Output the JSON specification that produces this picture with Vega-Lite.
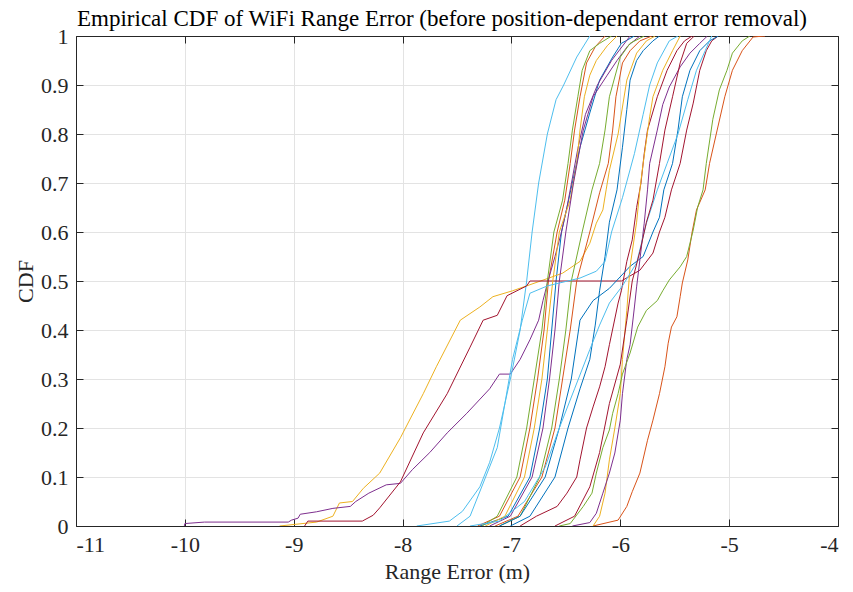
{
  "$schema": "https://vega.github.io/schema/vega-lite/v6.json",
  "width": 762,
  "height": 490,
  "autosize": "none",
  "padding": {"left": 76, "top": 36, "right": 15, "bottom": 66},
  "background": "white",
  "config": {"view": {"stroke": null}, "font": "Liberation Serif"},
  "title": {"text": "Empirical CDF of WiFi Range Error (before position-dependant error removal)", "font": "Liberation Serif", "fontSize": 23, "fontWeight": "normal", "color": "#000000", "offset": 8, "dy": 14, "dx": -15},
  "data": {"values": [
    {"s":"s01","x":-7.29,"y":0},{"s":"s01","x":-7.03,"y":0.02},{"s":"s01","x":-6.83,"y":0.1},{"s":"s01","x":-6.74,"y":0.2},{"s":"s01","x":-6.67,"y":0.3},{"s":"s01","x":-6.63,"y":0.4},{"s":"s01","x":-6.59,"y":0.5},{"s":"s01","x":-6.54,"y":0.6},{"s":"s01","x":-6.46,"y":0.68},{"s":"s01","x":-6.37,"y":0.773},{"s":"s01","x":-6.28,"y":0.843},{"s":"s01","x":-6.19,"y":0.91},{"s":"s01","x":-6.07,"y":0.957},{"s":"s01","x":-5.99,"y":0.985},{"s":"s01","x":-5.87,"y":1},
    {"s":"s02","x":-7.31,"y":0},{"s":"s02","x":-7.11,"y":0.02},{"s":"s02","x":-6.92,"y":0.1},{"s":"s02","x":-6.83,"y":0.2},{"s":"s02","x":-6.76,"y":0.3},{"s":"s02","x":-6.7,"y":0.4},{"s":"s02","x":-6.66,"y":0.5},{"s":"s02","x":-6.58,"y":0.6},{"s":"s02","x":-6.51,"y":0.665},{"s":"s02","x":-6.46,"y":0.74},{"s":"s02","x":-6.42,"y":0.808},{"s":"s02","x":-6.37,"y":0.876},{"s":"s02","x":-6.31,"y":0.945},{"s":"s02","x":-6.23,"y":0.978},{"s":"s02","x":-6.14,"y":1},
    {"s":"s03","x":-9.13,"y":0},{"s":"s03","x":-8.79,"y":0.008},{"s":"s03","x":-8.64,"y":0.02},{"s":"s03","x":-8.58,"y":0.047},{"s":"s03","x":-8.46,"y":0.05},{"s":"s03","x":-8.36,"y":0.077},{"s":"s03","x":-8.21,"y":0.108},{"s":"s03","x":-8.02,"y":0.18},{"s":"s03","x":-7.81,"y":0.27},{"s":"s03","x":-7.69,"y":0.325},{"s":"s03","x":-7.47,"y":0.42},{"s":"s03","x":-7.29,"y":0.447},{"s":"s03","x":-7.17,"y":0.468},{"s":"s03","x":-6.99,"y":0.48},{"s":"s03","x":-6.86,"y":0.49},{"s":"s03","x":-6.53,"y":0.516},{"s":"s03","x":-6.37,"y":0.54},{"s":"s03","x":-6.28,"y":0.577},{"s":"s03","x":-6.22,"y":0.618},{"s":"s03","x":-6.16,"y":0.645},{"s":"s03","x":-6.13,"y":0.686},{"s":"s03","x":-6.1,"y":0.726},{"s":"s03","x":-6.02,"y":0.8},{"s":"s03","x":-5.94,"y":0.91},{"s":"s03","x":-5.85,"y":0.965},{"s":"s03","x":-5.76,"y":0.99},{"s":"s03","x":-5.68,"y":1},
    {"s":"s04","x":-10.005,"y":0},{"s":"s04","x":-10.0,"y":0.005},{"s":"s04","x":-9.82,"y":0.008},{"s":"s04","x":-9.05,"y":0.008},{"s":"s04","x":-9.02,"y":0.012},{"s":"s04","x":-8.96,"y":0.016},{"s":"s04","x":-8.94,"y":0.024},{"s":"s04","x":-8.79,"y":0.029},{"s":"s04","x":-8.64,"y":0.036},{"s":"s04","x":-8.48,"y":0.04},{"s":"s04","x":-8.43,"y":0.05},{"s":"s04","x":-8.31,"y":0.067},{"s":"s04","x":-8.15,"y":0.084},{"s":"s04","x":-8.02,"y":0.087},{"s":"s04","x":-7.91,"y":0.115},{"s":"s04","x":-7.75,"y":0.15},{"s":"s04","x":-7.59,"y":0.19},{"s":"s04","x":-7.41,"y":0.23},{"s":"s04","x":-7.2,"y":0.28},{"s":"s04","x":-7.11,"y":0.31},{"s":"s04","x":-7.01,"y":0.31},{"s":"s04","x":-6.92,"y":0.34},{"s":"s04","x":-6.83,"y":0.38},{"s":"s04","x":-6.75,"y":0.42},{"s":"s04","x":-6.71,"y":0.46},{"s":"s04","x":-6.67,"y":0.495},{"s":"s04","x":-6.6,"y":0.55},{"s":"s04","x":-6.54,"y":0.6},{"s":"s04","x":-6.49,"y":0.65},{"s":"s04","x":-6.46,"y":0.686},{"s":"s04","x":-6.39,"y":0.77},{"s":"s04","x":-6.32,"y":0.84},{"s":"s04","x":-6.21,"y":0.9},{"s":"s04","x":-6.08,"y":0.95},{"s":"s04","x":-5.91,"y":1},
    {"s":"s05","x":-7.27,"y":0},{"s":"s05","x":-7.13,"y":0.02},{"s":"s05","x":-6.95,"y":0.1},{"s":"s05","x":-6.86,"y":0.2},{"s":"s05","x":-6.79,"y":0.3},{"s":"s05","x":-6.72,"y":0.4},{"s":"s05","x":-6.67,"y":0.5},{"s":"s05","x":-6.61,"y":0.6},{"s":"s05","x":-6.53,"y":0.665},{"s":"s05","x":-6.48,"y":0.74},{"s":"s05","x":-6.44,"y":0.808},{"s":"s05","x":-6.39,"y":0.876},{"s":"s05","x":-6.35,"y":0.93},{"s":"s05","x":-6.28,"y":0.97},{"s":"s05","x":-6.19,"y":0.985},{"s":"s05","x":-6.08,"y":1},
    {"s":"s06","x":-7.87,"y":0},{"s":"s06","x":-7.57,"y":0.01},{"s":"s06","x":-7.45,"y":0.03},{"s":"s06","x":-7.29,"y":0.08},{"s":"s06","x":-7.2,"y":0.13},{"s":"s06","x":-7.11,"y":0.2},{"s":"s06","x":-7.0,"y":0.31},{"s":"s06","x":-6.92,"y":0.4},{"s":"s06","x":-6.86,"y":0.5},{"s":"s06","x":-6.81,"y":0.6},{"s":"s06","x":-6.75,"y":0.7},{"s":"s06","x":-6.67,"y":0.8},{"s":"s06","x":-6.59,"y":0.87},{"s":"s06","x":-6.52,"y":0.9},{"s":"s06","x":-6.4,"y":0.957},{"s":"s06","x":-6.28,"y":1},
    {"s":"s07","x":-8.9,"y":0},{"s":"s07","x":-8.87,"y":0.01},{"s":"s07","x":-8.37,"y":0.01},{"s":"s07","x":-8.27,"y":0.022},{"s":"s07","x":-8.21,"y":0.037},{"s":"s07","x":-8.02,"y":0.09},{"s":"s07","x":-7.81,"y":0.19},{"s":"s07","x":-7.59,"y":0.27},{"s":"s07","x":-7.38,"y":0.365},{"s":"s07","x":-7.26,"y":0.42},{"s":"s07","x":-7.13,"y":0.43},{"s":"s07","x":-7.04,"y":0.47},{"s":"s07","x":-6.86,"y":0.49},{"s":"s07","x":-6.83,"y":0.5},{"s":"s07","x":-5.99,"y":0.5},{"s":"s07","x":-5.82,"y":0.522},{"s":"s07","x":-5.7,"y":0.557},{"s":"s07","x":-5.64,"y":0.6},{"s":"s07","x":-5.59,"y":0.63},{"s":"s07","x":-5.53,"y":0.686},{"s":"s07","x":-5.45,"y":0.74},{"s":"s07","x":-5.39,"y":0.808},{"s":"s07","x":-5.33,"y":0.863},{"s":"s07","x":-5.27,"y":0.93},{"s":"s07","x":-5.21,"y":0.97},{"s":"s07","x":-5.16,"y":0.99},{"s":"s07","x":-5.1,"y":1},
    {"s":"s08","x":-7.01,"y":0},{"s":"s08","x":-6.83,"y":0.02},{"s":"s08","x":-6.6,"y":0.1},{"s":"s08","x":-6.48,"y":0.2},{"s":"s08","x":-6.37,"y":0.28},{"s":"s08","x":-6.28,"y":0.34},{"s":"s08","x":-6.23,"y":0.41},{"s":"s08","x":-6.19,"y":0.48},{"s":"s08","x":-6.14,"y":0.55},{"s":"s08","x":-6.1,"y":0.62},{"s":"s08","x":-6.03,"y":0.686},{"s":"s08","x":-5.98,"y":0.773},{"s":"s08","x":-5.94,"y":0.85},{"s":"s08","x":-5.91,"y":0.91},{"s":"s08","x":-5.85,"y":0.95},{"s":"s08","x":-5.79,"y":0.97},{"s":"s08","x":-5.7,"y":0.99},{"s":"s08","x":-5.64,"y":1},
    {"s":"s09","x":-7.15,"y":0},{"s":"s09","x":-6.94,"y":0.02},{"s":"s09","x":-6.72,"y":0.1},{"s":"s09","x":-6.6,"y":0.2},{"s":"s09","x":-6.53,"y":0.3},{"s":"s09","x":-6.46,"y":0.4},{"s":"s09","x":-6.4,"y":0.5},{"s":"s09","x":-6.28,"y":0.6},{"s":"s09","x":-6.19,"y":0.68},{"s":"s09","x":-6.11,"y":0.74},{"s":"s09","x":-6.07,"y":0.808},{"s":"s09","x":-6.04,"y":0.876},{"s":"s09","x":-5.98,"y":0.945},{"s":"s09","x":-5.91,"y":0.97},{"s":"s09","x":-5.82,"y":0.99},{"s":"s09","x":-5.71,"y":1},
    {"s":"s10","x":-7.24,"y":0},{"s":"s10","x":-7.06,"y":0.02},{"s":"s10","x":-6.88,"y":0.1},{"s":"s10","x":-6.79,"y":0.2},{"s":"s10","x":-6.72,"y":0.3},{"s":"s10","x":-6.67,"y":0.4},{"s":"s10","x":-6.62,"y":0.5},{"s":"s10","x":-6.56,"y":0.6},{"s":"s10","x":-6.46,"y":0.665},{"s":"s10","x":-6.4,"y":0.74},{"s":"s10","x":-6.37,"y":0.808},{"s":"s10","x":-6.33,"y":0.876},{"s":"s10","x":-6.28,"y":0.92},{"s":"s10","x":-6.22,"y":0.95},{"s":"s10","x":-6.12,"y":0.98},{"s":"s10","x":-6.03,"y":1},
    {"s":"s11","x":-7.2,"y":0},{"s":"s11","x":-7.01,"y":0.02},{"s":"s11","x":-6.81,"y":0.1},{"s":"s11","x":-6.71,"y":0.2},{"s":"s11","x":-6.65,"y":0.3},{"s":"s11","x":-6.6,"y":0.4},{"s":"s11","x":-6.56,"y":0.5},{"s":"s11","x":-6.5,"y":0.6},{"s":"s11","x":-6.43,"y":0.7},{"s":"s11","x":-6.34,"y":0.808},{"s":"s11","x":-6.25,"y":0.876},{"s":"s11","x":-6.12,"y":0.92},{"s":"s11","x":-6.03,"y":0.95},{"s":"s11","x":-5.93,"y":0.98},{"s":"s11","x":-5.82,"y":1},
    {"s":"s12","x":-7.11,"y":0},{"s":"s12","x":-6.92,"y":0.02},{"s":"s12","x":-6.74,"y":0.1},{"s":"s12","x":-6.63,"y":0.2},{"s":"s12","x":-6.56,"y":0.3},{"s":"s12","x":-6.5,"y":0.4},{"s":"s12","x":-6.45,"y":0.5},{"s":"s12","x":-6.35,"y":0.6},{"s":"s12","x":-6.26,"y":0.686},{"s":"s12","x":-6.19,"y":0.74},{"s":"s12","x":-6.14,"y":0.808},{"s":"s12","x":-6.1,"y":0.876},{"s":"s12","x":-6.0,"y":0.957},{"s":"s12","x":-5.91,"y":0.985},{"s":"s12","x":-5.78,"y":1},
    {"s":"s13","x":-7.5,"y":0},{"s":"s13","x":-7.38,"y":0.02},{"s":"s13","x":-7.13,"y":0.16},{"s":"s13","x":-7.06,"y":0.25},{"s":"s13","x":-6.99,"y":0.34},{"s":"s13","x":-6.9,"y":0.42},{"s":"s13","x":-6.83,"y":0.475},{"s":"s13","x":-6.67,"y":0.49},{"s":"s13","x":-6.37,"y":0.506},{"s":"s13","x":-6.22,"y":0.52},{"s":"s13","x":-6.14,"y":0.54},{"s":"s13","x":-6.08,"y":0.6},{"s":"s13","x":-5.98,"y":0.67},{"s":"s13","x":-5.87,"y":0.76},{"s":"s13","x":-5.79,"y":0.84},{"s":"s13","x":-5.73,"y":0.9},{"s":"s13","x":-5.66,"y":0.945},{"s":"s13","x":-5.55,"y":0.99},{"s":"s13","x":-5.47,"y":1},
    {"s":"s14","x":-6.92,"y":0},{"s":"s14","x":-6.77,"y":0.02},{"s":"s14","x":-6.58,"y":0.04},{"s":"s14","x":-6.49,"y":0.067},{"s":"s14","x":-6.4,"y":0.1},{"s":"s14","x":-6.37,"y":0.135},{"s":"s14","x":-6.31,"y":0.2},{"s":"s14","x":-6.25,"y":0.243},{"s":"s14","x":-6.19,"y":0.284},{"s":"s14","x":-6.14,"y":0.325},{"s":"s14","x":-6.1,"y":0.37},{"s":"s14","x":-6.02,"y":0.455},{"s":"s14","x":-5.99,"y":0.48},{"s":"s14","x":-5.94,"y":0.54},{"s":"s14","x":-5.89,"y":0.584},{"s":"s14","x":-5.85,"y":0.65},{"s":"s14","x":-5.81,"y":0.7},{"s":"s14","x":-5.78,"y":0.76},{"s":"s14","x":-5.75,"y":0.808},{"s":"s14","x":-5.66,"y":0.876},{"s":"s14","x":-5.57,"y":0.93},{"s":"s14","x":-5.48,"y":0.97},{"s":"s14","x":-5.41,"y":0.99},{"s":"s14","x":-5.34,"y":1},
    {"s":"s15","x":-7.11,"y":0},{"s":"s15","x":-6.92,"y":0.02},{"s":"s15","x":-6.69,"y":0.1},{"s":"s15","x":-6.56,"y":0.2},{"s":"s15","x":-6.45,"y":0.3},{"s":"s15","x":-6.37,"y":0.42},{"s":"s15","x":-6.25,"y":0.46},{"s":"s15","x":-6.1,"y":0.485},{"s":"s15","x":-5.91,"y":0.53},{"s":"s15","x":-5.79,"y":0.55},{"s":"s15","x":-5.7,"y":0.6},{"s":"s15","x":-5.64,"y":0.63},{"s":"s15","x":-5.6,"y":0.686},{"s":"s15","x":-5.52,"y":0.74},{"s":"s15","x":-5.47,"y":0.808},{"s":"s15","x":-5.43,"y":0.876},{"s":"s15","x":-5.36,"y":0.93},{"s":"s15","x":-5.27,"y":0.97},{"s":"s15","x":-5.18,"y":0.99},{"s":"s15","x":-5.1,"y":1},
    {"s":"s16","x":-6.25,"y":0},{"s":"s16","x":-6.02,"y":0.012},{"s":"s16","x":-5.94,"y":0.04},{"s":"s16","x":-5.89,"y":0.07},{"s":"s16","x":-5.82,"y":0.108},{"s":"s16","x":-5.75,"y":0.175},{"s":"s16","x":-5.7,"y":0.216},{"s":"s16","x":-5.64,"y":0.27},{"s":"s16","x":-5.59,"y":0.325},{"s":"s16","x":-5.56,"y":0.373},{"s":"s16","x":-5.53,"y":0.406},{"s":"s16","x":-5.48,"y":0.427},{"s":"s16","x":-5.45,"y":0.468},{"s":"s16","x":-5.43,"y":0.496},{"s":"s16","x":-5.38,"y":0.543},{"s":"s16","x":-5.34,"y":0.6},{"s":"s16","x":-5.3,"y":0.645},{"s":"s16","x":-5.22,"y":0.686},{"s":"s16","x":-5.18,"y":0.74},{"s":"s16","x":-5.11,"y":0.808},{"s":"s16","x":-5.04,"y":0.876},{"s":"s16","x":-4.97,"y":0.93},{"s":"s16","x":-4.88,"y":0.97},{"s":"s16","x":-4.78,"y":0.998},{"s":"s16","x":-4.67,"y":1},
    {"s":"s17","x":-6.25,"y":0},{"s":"s17","x":-6.19,"y":0.02},{"s":"s17","x":-6.14,"y":0.067},{"s":"s17","x":-6.1,"y":0.135},{"s":"s17","x":-6.05,"y":0.2},{"s":"s17","x":-6.0,"y":0.27},{"s":"s17","x":-5.98,"y":0.34},{"s":"s17","x":-5.94,"y":0.44},{"s":"s17","x":-5.91,"y":0.53},{"s":"s17","x":-5.85,"y":0.62},{"s":"s17","x":-5.82,"y":0.686},{"s":"s17","x":-5.79,"y":0.74},{"s":"s17","x":-5.73,"y":0.835},{"s":"s17","x":-5.7,"y":0.876},{"s":"s17","x":-5.61,"y":0.93},{"s":"s17","x":-5.52,"y":0.97},{"s":"s17","x":-5.45,"y":1},
    {"s":"s18","x":-6.44,"y":0},{"s":"s18","x":-6.28,"y":0.007},{"s":"s18","x":-6.22,"y":0.026},{"s":"s18","x":-6.16,"y":0.067},{"s":"s18","x":-6.1,"y":0.108},{"s":"s18","x":-6.05,"y":0.149},{"s":"s18","x":-6.0,"y":0.216},{"s":"s18","x":-5.98,"y":0.27},{"s":"s18","x":-5.94,"y":0.34},{"s":"s18","x":-5.91,"y":0.37},{"s":"s18","x":-5.87,"y":0.447},{"s":"s18","x":-5.85,"y":0.488},{"s":"s18","x":-5.82,"y":0.543},{"s":"s18","x":-5.78,"y":0.618},{"s":"s18","x":-5.75,"y":0.686},{"s":"s18","x":-5.73,"y":0.74},{"s":"s18","x":-5.66,"y":0.808},{"s":"s18","x":-5.61,"y":0.86},{"s":"s18","x":-5.55,"y":0.896},{"s":"s18","x":-5.45,"y":0.937},{"s":"s18","x":-5.36,"y":0.965},{"s":"s18","x":-5.27,"y":0.985},{"s":"s18","x":-5.2,"y":1},
    {"s":"s19","x":-6.56,"y":0},{"s":"s19","x":-6.46,"y":0.005},{"s":"s19","x":-6.34,"y":0.04},{"s":"s19","x":-6.26,"y":0.067},{"s":"s19","x":-6.22,"y":0.108},{"s":"s19","x":-6.16,"y":0.16},{"s":"s19","x":-6.1,"y":0.196},{"s":"s19","x":-6.07,"y":0.23},{"s":"s19","x":-6.02,"y":0.27},{"s":"s19","x":-5.98,"y":0.31},{"s":"s19","x":-5.91,"y":0.353},{"s":"s19","x":-5.84,"y":0.406},{"s":"s19","x":-5.76,"y":0.44},{"s":"s19","x":-5.66,"y":0.46},{"s":"s19","x":-5.61,"y":0.48},{"s":"s19","x":-5.55,"y":0.502},{"s":"s19","x":-5.45,"y":0.529},{"s":"s19","x":-5.39,"y":0.55},{"s":"s19","x":-5.33,"y":0.604},{"s":"s19","x":-5.29,"y":0.65},{"s":"s19","x":-5.24,"y":0.686},{"s":"s19","x":-5.21,"y":0.74},{"s":"s19","x":-5.15,"y":0.83},{"s":"s19","x":-5.09,"y":0.89},{"s":"s19","x":-5.02,"y":0.93},{"s":"s19","x":-4.97,"y":0.965},{"s":"s19","x":-4.88,"y":0.99},{"s":"s19","x":-4.81,"y":1},
    {"s":"s20","x":-7.38,"y":0},{"s":"s20","x":-7.11,"y":0.01},{"s":"s20","x":-6.88,"y":0.05},{"s":"s20","x":-6.69,"y":0.12},{"s":"s20","x":-6.56,"y":0.2},{"s":"s20","x":-6.42,"y":0.28},{"s":"s20","x":-6.28,"y":0.36},{"s":"s20","x":-6.19,"y":0.41},{"s":"s20","x":-6.1,"y":0.455},{"s":"s20","x":-5.98,"y":0.49},{"s":"s20","x":-5.85,"y":0.537},{"s":"s20","x":-5.76,"y":0.618},{"s":"s20","x":-5.66,"y":0.686},{"s":"s20","x":-5.57,"y":0.74},{"s":"s20","x":-5.47,"y":0.8},{"s":"s20","x":-5.38,"y":0.87},{"s":"s20","x":-5.3,"y":0.93},{"s":"s20","x":-5.22,"y":0.97},{"s":"s20","x":-5.16,"y":1},
    {"s":"s21","x":-6.6,"y":0},{"s":"s21","x":-6.42,"y":0.02},{"s":"s21","x":-6.28,"y":0.08},{"s":"s21","x":-6.19,"y":0.15},{"s":"s21","x":-6.1,"y":0.25},{"s":"s21","x":-6.0,"y":0.33},{"s":"s21","x":-5.94,"y":0.42},{"s":"s21","x":-5.89,"y":0.5},{"s":"s21","x":-5.82,"y":0.56},{"s":"s21","x":-5.76,"y":0.62},{"s":"s21","x":-5.7,"y":0.665},{"s":"s21","x":-5.64,"y":0.74},{"s":"s21","x":-5.59,"y":0.808},{"s":"s21","x":-5.52,"y":0.876},{"s":"s21","x":-5.45,"y":0.945},{"s":"s21","x":-5.39,"y":0.985},{"s":"s21","x":-5.32,"y":1}
  ]},
  "layer": [
    {
      "mark": {"type": "line", "strokeWidth": 1, "interpolate": "linear", "clip": true},
      "encoding": {
        "x": {"field": "x", "type": "quantitative", "scale": {"domain": [-11, -4], "nice": false, "zero": false},
          "axis": {"orient": "bottom", "values": [-11, -10, -9, -8, -7, -6, -5, -4], "labelExpr": "datum.value + ''", "title": "Range Error (m)",
            "grid": true, "gridColor": "#e3e3e3", "gridWidth": 1, "domainColor": "#262626", "domainWidth": 1, "tickColor": "#262626", "tickSize": -7,
            "labelFont": "Liberation Serif", "labelFontSize": 22, "labelColor": "#262626", "labelPadding": 15,
            "titleFont": "Liberation Serif", "titleFontSize": 22, "titleFontWeight": "normal", "titleColor": "#262626", "titlePadding": 6}},
        "y": {"field": "y", "type": "quantitative", "scale": {"domain": [0, 1], "nice": false},
          "axis": {"orient": "left", "values": [0, 0.1, 0.2, 0.3, 0.4, 0.5, 0.6, 0.7, 0.8, 0.9, 1], "format": "~g", "title": "CDF",
            "grid": true, "gridColor": "#e3e3e3", "gridWidth": 1, "domainColor": "#262626", "domainWidth": 1, "tickColor": "#262626", "tickSize": -7,
            "labelFont": "Liberation Serif", "labelFontSize": 22, "labelColor": "#262626", "labelPadding": 15,
            "titleFont": "Liberation Serif", "titleFontSize": 22, "titleFontWeight": "normal", "titleColor": "#262626", "titlePadding": 3}},
        "color": {"field": "s", "type": "nominal", "legend": null,
          "scale": {"domain": ["s01","s02","s03","s04","s05","s06","s07","s08","s09","s10","s11","s12","s13","s14","s15","s16","s17","s18","s19","s20","s21"],
            "range": ["#0072BD","#D95319","#EDB120","#7E2F8E","#77AC30","#4DBEEE","#A2142F","#0072BD","#D95319","#EDB120","#7E2F8E","#77AC30","#4DBEEE","#A2142F","#0072BD","#D95319","#EDB120","#7E2F8E","#77AC30","#4DBEEE","#A2142F"]}}
      }
    },
    {
      "mark": {"type": "point", "opacity": 0},
      "encoding": {
        "x": {"field": "x", "type": "quantitative",
          "axis": {"orient": "top", "values": [-11, -10, -9, -8, -7, -6, -5, -4], "labels": false, "title": null, "grid": false, "domainColor": "#262626", "tickColor": "#262626", "tickSize": -7}},
        "y": {"field": "y", "type": "quantitative",
          "axis": {"orient": "right", "values": [0, 0.1, 0.2, 0.3, 0.4, 0.5, 0.6, 0.7, 0.8, 0.9, 1], "labels": false, "title": null, "grid": false, "domainColor": "#262626", "tickColor": "#262626", "tickSize": -7}}
      }
    }
  ],
  "resolve": {"axis": {"x": "independent", "y": "independent"}}
}
